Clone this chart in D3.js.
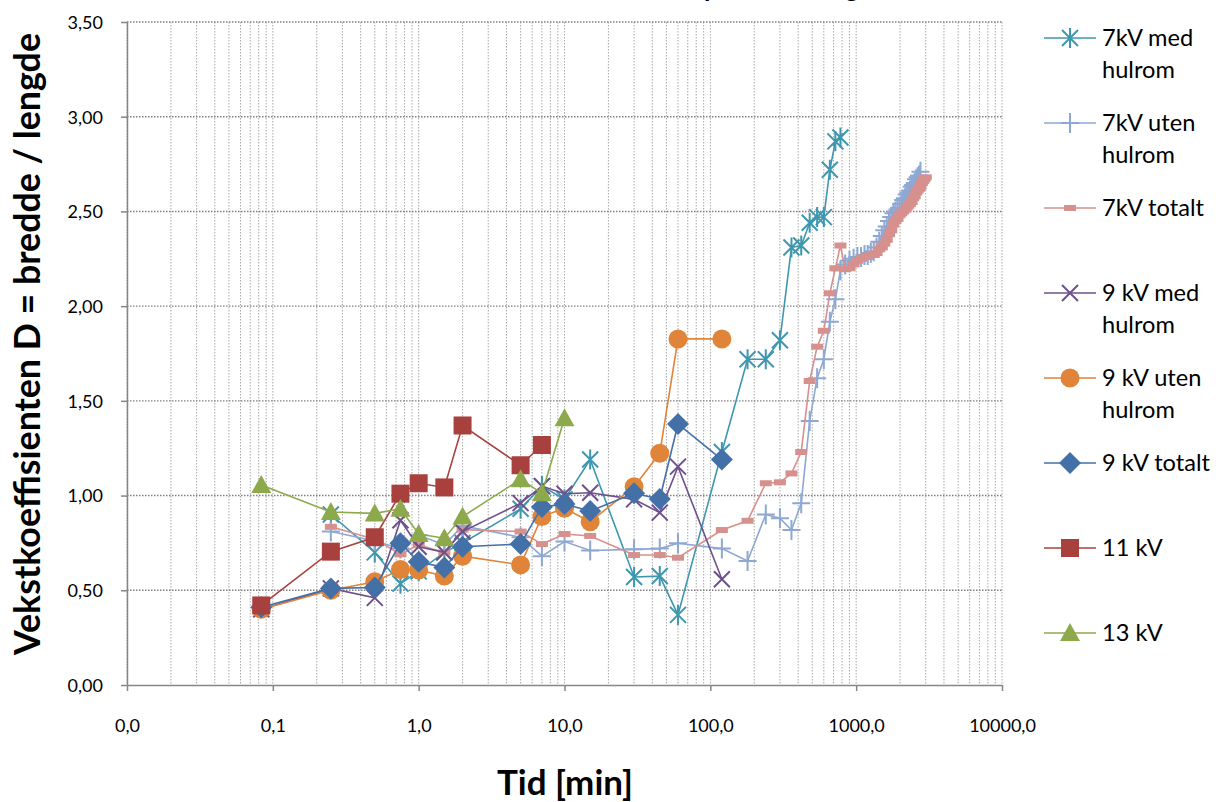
<!DOCTYPE html>
<html><head><meta charset="utf-8">
<script src="https://cdn.jsdelivr.net/npm/d3@7"></script>
<style>html,body{margin:0;padding:0;background:#fff;overflow:hidden} svg{display:block;}</style>
</head><body>
<svg id="chart" width="1216" height="802"></svg>
<script>
// ---------- texts ----------
const titleText = "Vekstkoeffisient D for ulike spenninger";
const yTitle = "Vekstkoeffisienten D = bredde / lengde";
const xTitle = "Tid [min]";
const xTickValues = [0.01, 0.1, 1, 10, 100, 1000, 10000];
const xTickLabels = ["0,0", "0,1", "1,0", "10,0", "100,0", "1000,0", "10000,0"];
const yTickValues = [0, 0.5, 1, 1.5, 2, 2.5, 3, 3.5];
const yTickLabels = ["0,00", "0,50", "1,00", "1,50", "2,00", "2,50", "3,00", "3,50"];
const seriesNames = ["7kV med hulrom", "7kV uten hulrom", "7kV totalt", "9 kV med hulrom", "9 kV uten hulrom", "9 kV totalt", "11 kV", "13 kV"];
const legendLines = [["7kV med", "hulrom"], ["7kV uten", "hulrom"], ["7kV totalt"], ["9 kV med", "hulrom"], ["9 kV uten", "hulrom"], ["9 kV totalt"], ["11 kV"], ["13 kV"]];
const seriesColors = ["#3E97AF", "#8DA8D3", "#D6908E", "#6E508C", "#E0843A", "#4470A8", "#A8413E", "#8CAA4C"];
const seriesMarkers = ["star", "plus", "dash", "x", "circle", "diamond", "square", "triangle"];

// ---------- data (time in minutes, D value) ----------
const t7med = [0.25, 0.5, 0.75, 1, 1.5, 2, 5, 7, 10, 15, 30, 45, 60, 120, 180, 240, 300, 360, 420, 480, 540, 600, 660, 720, 780];
const d7med = [0.90, 0.70, 0.535, 0.60, 0.70, 0.75, 0.93, 1.05, 0.98, 1.19, 0.57, 0.575, 0.37, 1.23, 1.72, 1.72, 1.82, 2.31, 2.32, 2.44, 2.47, 2.47, 2.72, 2.87, 2.89];

const t7uten = [0.25, 0.5, 0.75, 1, 1.5, 2, 5, 7, 10, 15, 30, 45, 60, 120, 180, 240, 300, 360, 420, 480, 540, 600, 660, 720, 780,
  840, 900, 960, 1020, 1080, 1140, 1200, 1260, 1320, 1380, 1440, 1500, 1560, 1620, 1680, 1740, 1800, 1860, 1920, 1980,
  2040, 2100, 2160, 2220, 2280, 2340, 2400, 2460, 2520, 2580, 2640, 2700, 2760];
const d7uten = [0.81, 0.76, 0.72, 0.79, 0.74, 0.84, 0.78, 0.68, 0.757, 0.71, 0.716, 0.72, 0.748, 0.72, 0.655, 0.90, 0.88, 0.818, 0.96, 1.394, 1.62, 1.72, 1.918, 2.036, 2.19,
  2.22, 2.24, 2.25, 2.26, 2.26, 2.27, 2.27, 2.28, 2.29, 2.31, 2.34, 2.37, 2.40, 2.42, 2.45, 2.47, 2.49, 2.50, 2.51, 2.52,
  2.54, 2.56, 2.57, 2.59, 2.60, 2.61, 2.63, 2.64, 2.65, 2.67, 2.68, 2.69, 2.71];

const t7tot = [0.25, 0.5, 0.75, 1, 1.5, 2, 5, 7, 10, 15, 30, 45, 60, 120, 180, 240, 300, 360, 420, 480, 540, 600, 660, 720, 780, 840,
  900, 960, 1020, 1080, 1140, 1200, 1260, 1320, 1380, 1440, 1500, 1560, 1620, 1680, 1740, 1800, 1860, 1920, 1980,
  2040, 2100, 2160, 2220, 2280, 2340, 2400, 2460, 2520, 2580, 2640, 2700, 2760, 2820, 2880, 2940, 3000];
const d7tot = [0.835, 0.77, 0.69, 0.74, 0.70, 0.82, 0.81, 0.744, 0.797, 0.787, 0.686, 0.686, 0.672, 0.818, 0.867, 1.065, 1.07, 1.117, 1.23, 1.605, 1.786, 1.87, 2.068, 2.20, 2.32, 2.195,
  2.20, 2.22, 2.24, 2.25, 2.26, 2.26, 2.27, 2.27, 2.28, 2.30, 2.31, 2.33, 2.35, 2.38, 2.40, 2.43, 2.45, 2.46, 2.48,
  2.49, 2.50, 2.51, 2.52, 2.53, 2.54, 2.55, 2.57, 2.58, 2.60, 2.61, 2.62, 2.63, 2.65, 2.66, 2.67, 2.68];

const t9 = [0.0833, 0.25, 0.5, 0.75, 1, 1.5, 2, 5, 7, 10, 15, 30, 45, 60, 120];
const d9med = [0.40, 0.51, 0.46, 0.87, 0.73, 0.70, 0.81, 0.96, 1.05, 1.01, 1.015, 0.98, 0.91, 1.153, 0.558];
const d9uten = [0.40, 0.50, 0.545, 0.61, 0.607, 0.575, 0.68, 0.634, 0.889, 0.933, 0.862, 1.047, 1.223, 1.827, 1.827];
const d9tot = [0.41, 0.51, 0.515, 0.748, 0.65, 0.62, 0.73, 0.744, 0.94, 0.955, 0.918, 1.012, 0.982, 1.378, 1.19];

const t11 = [0.0833, 0.25, 0.5, 0.75, 1, 1.5, 2, 5, 7];
const d11 = [0.42, 0.704, 0.78, 1.01, 1.065, 1.043, 1.37, 1.16, 1.267];

const t13 = [0.0833, 0.25, 0.5, 0.75, 1, 1.5, 2, 5, 7, 10];
const d13 = [1.056, 0.913, 0.906, 0.93, 0.797, 0.775, 0.889, 1.086, 1.012, 1.408];

const seriesT = [t7med, t7uten, t7tot, t9, t9, t9, t11, t13];
const seriesD = [d7med, d7uten, d7tot, d9med, d9uten, d9tot, d11, d13];

// ---------- layout ----------
const FONT = "Lato, 'Open Sans', 'DejaVu Sans', sans-serif";
const svg = d3.select("#chart");
const x = d3.scaleLog().domain([0.01, 10000]).range([127, 1002]);
const y = d3.scaleLinear().domain([0, 3.5]).range([685, 22]);

function fit(sel, target) {
  const w = sel.node().getComputedTextLength();
  const fs = parseFloat(sel.attr("font-size"));
  return fs * target / w;
}

// title (mostly above the visible area, as in the reference)
const tt = svg.append("text").attr("font-family", FONT).attr("font-weight", "bold")
  .attr("font-size", 26).attr("x", 0).attr("y", -3).text(titleText);
{
  const ip = titleText.indexOf("p"), ig = titleText.lastIndexOf("g");
  const n = tt.node();
  const fs = 26;
  const pX = n.getStartPositionOfChar(ip).x + 0.12 * fs;
  const gE = n.getExtentOfChar(ig);
  const gX = gE.x + gE.width / 2;
  const ls = (145 - (gX - pX)) / (ig - ip);
  tt.attr("letter-spacing", ls);
  const pX2 = n.getStartPositionOfChar(ip).x + 0.12 * fs;
  tt.attr("x", 707 - pX2);
}

// gridlines
const gGrid = svg.append("g");
const minorX = [];
for (let e = -2; e < 4; e++) for (let k = 1; k <= 9; k++) minorX.push(k * Math.pow(10, e));
minorX.push(10000);
gGrid.selectAll("line.vx").data(minorX).join("line")
  .attr("x1", d => x(d)).attr("x2", d => x(d)).attr("y1", y(3.5)).attr("y2", y(0))
  .attr("stroke", "#a8a8a8").attr("stroke-width", 1).attr("stroke-dasharray", "1.5,1.5");
gGrid.selectAll("line.hy").data(yTickValues.slice(1)).join("line")
  .attr("x1", x(0.01)).attr("x2", x(10000)).attr("y1", d => y(d)).attr("y2", d => y(d))
  .attr("stroke", "#808080").attr("stroke-width", 1.4).attr("stroke-dasharray", "1.5,1.5");

// axes
const axisColor = "#868686";
const TICK_FS = 18;
const xAxis = d3.axisBottom(x).tickValues(xTickValues).tickFormat((d, i) => xTickLabels[i]).tickSize(6).tickSizeOuter(0);
const gx = svg.append("g").attr("transform", `translate(0,${y(0)})`).call(xAxis);
const yAxis = d3.axisLeft(y).tickValues(yTickValues).tickFormat((d, i) => yTickLabels[i]).tickSize(6).tickSizeOuter(0);
const gy = svg.append("g").attr("transform", `translate(${x(0.01)},0)`).call(yAxis);
[gx, gy].forEach(g => {
  g.attr("font-size", TICK_FS).attr("font-family", FONT);
  g.select(".domain").attr("stroke", axisColor).attr("stroke-width", 1.5);
  g.selectAll(".tick line").attr("stroke", axisColor).attr("stroke-width", 1.5);
  g.selectAll(".tick text").style("font-family", FONT).style("font-size", TICK_FS + "px").attr("fill", "#000");
});
gx.selectAll(".tick text").attr("y", 41).attr("dy", "0.35em");
gy.selectAll(".tick text").attr("x", -24).attr("dy", "0.35em");

// axis titles
const yt = svg.append("text").attr("font-family", FONT).attr("font-weight", "bold").attr("font-size", 28)
  .attr("text-anchor", "middle").attr("transform", "translate(27,344) rotate(-90)").attr("dy", "0.35em").text(yTitle);
yt.attr("font-size", fit(yt, 622));
const xt = svg.append("text").attr("font-family", FONT).attr("font-weight", "bold").attr("font-size", 28)
  .attr("text-anchor", "middle").attr("x", 565).attr("y", 783).attr("dy", "0.35em").text(xTitle);
xt.attr("font-size", fit(xt, 136));

// markers
function drawMarker(g, type, color) {
  switch (type) {
    case "star":
      g.append("path").attr("d", "M-8,-8L8,8M-8,8L8,-8M0,-10V10").attr("stroke", color).attr("stroke-width", 2).attr("fill", "none"); break;
    case "plus":
      g.append("path").attr("d", "M-9,0H9M0,-10V10").attr("stroke", color).attr("stroke-width", 2).attr("fill", "none"); break;
    case "dash":
      g.append("rect").attr("x", -6).attr("y", -3).attr("width", 12).attr("height", 6).attr("fill", color); break;
    case "x":
      g.append("path").attr("d", "M-8,-8L8,8M-8,8L8,-8").attr("stroke", color).attr("stroke-width", 2).attr("fill", "none"); break;
    case "circle":
      g.append("circle").attr("r", 9.5).attr("fill", color); break;
    case "diamond":
      g.append("path").attr("d", "M0,-11L11,0L0,11L-11,0Z").attr("fill", color); break;
    case "square":
      g.append("rect").attr("x", -9).attr("y", -9).attr("width", 18).attr("height", 18).attr("fill", color); break;
    case "triangle":
      g.append("path").attr("d", "M0,-10L10,8L-10,8Z").attr("fill", color); break;
  }
}

// series
const line = d3.line().x(d => x(d[0])).y(d => y(d[1]));
seriesNames.forEach((name, si) => {
  const pts = seriesT[si].map((t, i) => [t, seriesD[si][i]]);
  const g = svg.append("g").attr("class", "series");
  g.append("path").datum(pts).attr("d", line).attr("fill", "none")
    .attr("stroke", seriesColors[si]).attr("stroke-width", 1.6);
  pts.forEach(p => {
    const mg = g.append("g").attr("transform", `translate(${x(p[0])},${y(p[1])})`);
    drawMarker(mg, seriesMarkers[si], seriesColors[si]);
  });
});

// legend
const leg = svg.append("g");
const legTexts = [];
legendLines.forEach((lines, i) => {
  const cy = 38 + i * 85;
  const g = leg.append("g").attr("transform", `translate(0,${cy})`);
  g.append("line").attr("x1", 1044).attr("x2", 1096).attr("y1", 0).attr("y2", 0)
    .attr("stroke", seriesColors[i]).attr("stroke-width", 1.6);
  const mg = g.append("g").attr("transform", "translate(1070,0)");
  drawMarker(mg, seriesMarkers[i], seriesColors[i]);
  lines.forEach((ln, j) => {
    const t = g.append("text").attr("font-family", FONT).attr("font-size", 22).attr("x", 1102)
      .attr("y", j * 32).attr("dy", "0.35em").attr("fill", "#000").text(ln);
    legTexts.push(t);
  });
});
{
  const ref = legTexts.find(t => t.text() === "7kV totalt");
  const fs = fit(ref, 102);
  legTexts.forEach(t => t.attr("font-size", fs));
}
</script>
</body></html>
